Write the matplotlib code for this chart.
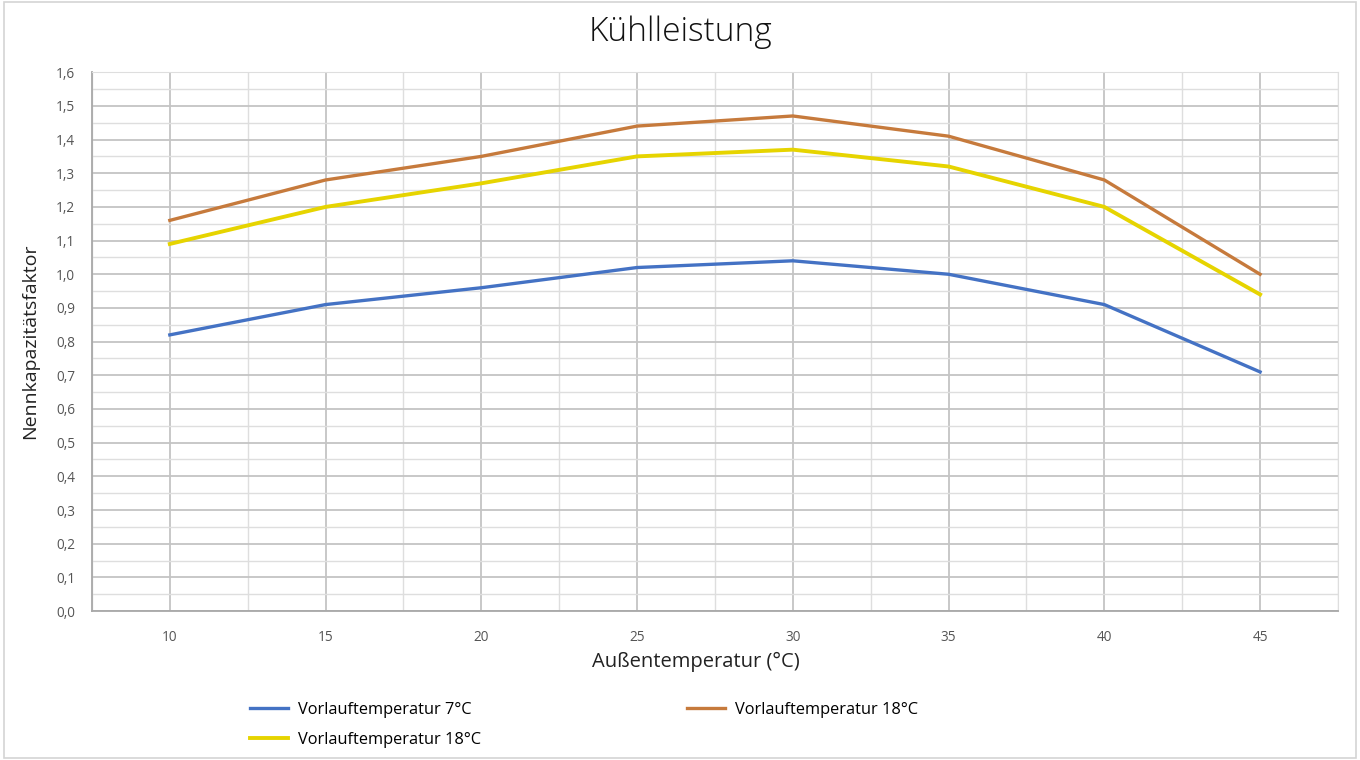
import matplotlib.pyplot as plt
from matplotlib.ticker import MultipleLocator, FuncFormatter
from matplotlib.patches import Rectangle

# Außentemperatur (°C) und Nennkapazitätsfaktor je Vorlauftemperatur
aussentemp = [10, 15, 20, 25, 30, 35, 40, 45]
faktor_7 = [0.82, 0.91, 0.96, 1.02, 1.04, 1.00, 0.91, 0.71]
faktor_18_orange = [1.16, 1.28, 1.35, 1.44, 1.47, 1.41, 1.28, 1.00]
faktor_18_gelb = [1.09, 1.20, 1.27, 1.35, 1.37, 1.32, 1.20, 0.94]
labels = ['Vorlauftemperatur 7°C', 'Vorlauftemperatur 18°C', 'Vorlauftemperatur 18°C']

plt.rcParams['font.family'] = ['Open Sans', 'DejaVu Sans']

fig = plt.figure(figsize=(13.6, 7.6), dpi=100)
ax = fig.add_axes([0.0676, 0.196, 0.9162, 0.709])

l7, = ax.plot(aussentemp, faktor_7, color='#4472C4', lw=2.4, label=labels[0])
l18o, = ax.plot(aussentemp, faktor_18_orange, color='#C67A3C', lw=2.4, label=labels[1])
l18g, = ax.plot(aussentemp, faktor_18_gelb, color='#E6D400', lw=2.8, label=labels[2])

ax.set_xlim(7.5, 47.5)
ax.set_ylim(0, 1.6)
ax.xaxis.set_major_locator(MultipleLocator(5))
ax.xaxis.set_minor_locator(MultipleLocator(2.5))
ax.yaxis.set_major_locator(MultipleLocator(0.1))
ax.yaxis.set_minor_locator(MultipleLocator(0.05))
ax.yaxis.set_major_formatter(FuncFormatter(lambda v, p: f'{v:.1f}'.replace('.', ',')))

ax.grid(which='major', color='#c4c4c4', lw=1.3)
ax.grid(which='minor', color='#dedede', lw=1.0)
ax.set_axisbelow(True)
ax.tick_params(which='both', length=0, colors='#555555', labelsize=9.8)
ax.tick_params(axis='x', pad=14)
ax.tick_params(axis='y', pad=12)
for side in ['top', 'right']:
    ax.spines[side].set_color('#dedede')
for side in ['left', 'bottom']:
    ax.spines[side].set_color('#a8a8a8')
    ax.spines[side].set_linewidth(1.3)

fig.text(0.5, 0.957, 'Kühlleistung', fontsize=24, fontweight='light',
         color='#111111', ha='center', va='center')
ax.set_xlabel('Außentemperatur (°C)', fontsize=14.5, color='#222222', labelpad=6)
ax.xaxis.set_label_coords(0.485, -0.075)
ax.set_ylabel('Nennkapazitätsfaktor', fontsize=14, color='#222222', labelpad=12)

# Legende: links 7°C und gelb, rechts orange
fig.legend([l7, l18g, l18o], [labels[0], labels[2], labels[1]],
           ncol=2, loc='upper left', bbox_to_anchor=(0.173, 0.096),
           frameon=False, fontsize=11.8, handlelength=2.3,
           columnspacing=12.6, labelspacing=0.85, handletextpad=0.6)

fig.patches.append(Rectangle((0.003, 0.003), 0.994, 0.994, transform=fig.transFigure,
                             fill=False, edgecolor='#d4d4d4', lw=1.2))

fig.savefig('out.png', dpi=100)
